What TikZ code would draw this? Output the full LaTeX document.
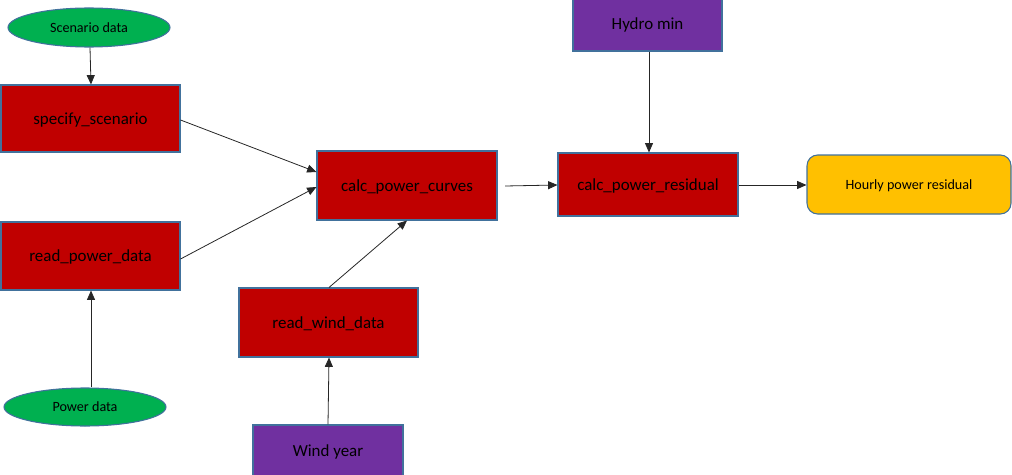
\documentclass[tikz,border=0pt]{standalone}
\usepackage{fontspec}
\setmainfont{Carlito}
\usetikzlibrary{shapes.geometric,arrows.meta}
\definecolor{boxred}{HTML}{C00000}
\definecolor{edgeblue}{HTML}{41719C}
\definecolor{ovgreen}{HTML}{00B050}
\definecolor{boxpurple}{HTML}{7030A0}
\definecolor{boxgold}{HTML}{FFC000}
\tikzset{
  procbox/.style={draw=edgeblue, line width=0.8pt, fill=boxred, rectangle, inner sep=0pt, text depth=0pt, font=\fontsize{12.7}{15}\selectfont},
  inbox/.style={draw=edgeblue, line width=0.8pt, fill=boxpurple, rectangle, inner sep=0pt, text depth=0pt, font=\fontsize{12.7}{15}\selectfont},
  dataell/.style={draw=edgeblue, line width=0.8pt, fill=ovgreen, ellipse, inner sep=0pt, text depth=0pt, font=\fontsize{10.6}{13}\selectfont},
  outbox/.style={draw=edgeblue, line width=0.8pt, fill=boxgold, rectangle, rounded corners=8pt, inner sep=0pt, text depth=0pt, font=\fontsize{10.6}{13}\selectfont},
  conn/.style={draw=black!85, line width=0.6pt, -{Triangle[length=7pt,width=6pt]}}
}
\begin{document}
\begin{tikzpicture}[x=0.75pt,y=-0.75pt]
\useasboundingbox (0,0) rectangle (1012,474);
\clip (0,0) rectangle (1012,474);
\node[dataell, minimum width=162*0.75pt, minimum height=39*0.75pt] (scen) at (89,27.5) {Scenario data};
\node[procbox, minimum width=179*0.75pt, minimum height=67*0.75pt] (spec) at (90.5,118.5) {specify\_scenario};
\node[procbox, minimum width=179*0.75pt, minimum height=68*0.75pt] (rpd) at (90.5,256) {read\_power\_data};
\node[dataell, minimum width=162*0.75pt, minimum height=38*0.75pt] (pdat) at (85,407) {Power data};
\node[procbox, minimum width=180*0.75pt, minimum height=69*0.75pt] (cpc) at (407,185.5) {calc\_power\_curves};
\node[procbox, minimum width=179*0.75pt, minimum height=69*0.75pt] (rwd) at (328.5,322.5) {read\_wind\_data};
\node[inbox, minimum width=150*0.75pt, minimum height=52*0.75pt] (wy) at (328,451) {Wind year};
\node[inbox, minimum width=149*0.75pt, minimum height=54*0.75pt] (hm) at (647.5,24) {Hydro min};
\node[procbox, minimum width=180*0.75pt, minimum height=63*0.75pt] (cpr) at (648,184.5) {calc\_power\_residual};
\node[outbox, minimum width=204*0.75pt, minimum height=59*0.75pt] (hpr) at (909,184.5) {Hourly power residual};

\coordinate (cpcout) at (505,186);
\draw[conn] (scen.south -| 90,0) -- (spec.north -| 91,0);
\draw[conn] (spec.east |- 0,120) -- (cpc.west |- 0,172);
\draw[conn] (rpd.east |- 0,259) -- (cpc.west |- 0,187);
\draw[conn] (pdat.north -| 91,0) -- (rpd.south -| 91,0);
\draw[conn] (rwd.north -| 329,0) -- (cpc.south -| 407,0);
\draw[conn] (wy.north -| 328,0) -- (rwd.south -| 329,0);
\draw[conn] (cpcout) -- (cpr.west |- 0,185);
\draw[conn] (hm.south -| 649,0) -- (cpr.north -| 649,0);
\draw[conn] (cpr.east |- 0,185) -- (hpr.west |- 0,185);
\end{tikzpicture}
\end{document}
